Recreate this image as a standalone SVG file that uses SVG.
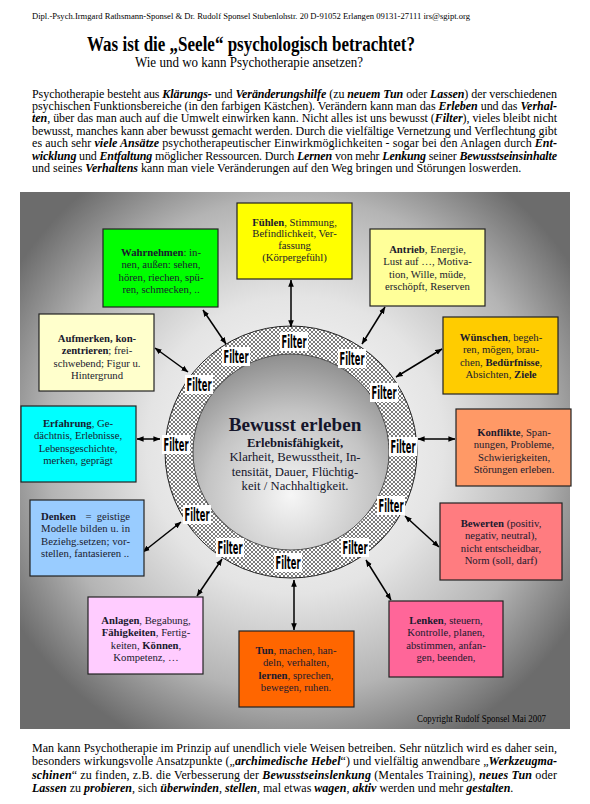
<svg xmlns="http://www.w3.org/2000/svg" width="590" height="804" viewBox="0 0 590 804">
<defs>
<style>
.ser{font-family:"Liberation Serif","Times New Roman",serif;fill:#000}
.hd{font-size:9px}
.p{font-size:12px}
.bi{font-weight:bold;font-style:italic}
.b{font-weight:bold}
.bx{stroke:#222;stroke-width:1.2}
.bt{font-family:"Liberation Serif","Times New Roman",serif;font-size:10.7px;fill:#1a1a2e;text-anchor:middle}
.bt.bl{text-anchor:start}
.bt.br{text-anchor:end}
.ct{font-family:"Liberation Serif","Times New Roman",serif;fill:#15152a;text-anchor:middle}
.fr{fill:#fff}
.ft{font-family:"Liberation Sans Narrow","DejaVu Sans Condensed","Liberation Sans",sans-serif;font-weight:bold;font-size:17px;fill:#000;text-anchor:middle}
.ar{stroke:#000;stroke-width:1.5;fill:none;marker-start:url(#ah);marker-end:url(#ah)}
</style>
<radialGradient id="bg" gradientUnits="userSpaceOnUse" cx="295" cy="445" r="330">
<stop offset="0" stop-color="#ffffff"/>
<stop offset="0.45" stop-color="#e4e4e4"/>
<stop offset="0.75" stop-color="#b4b4b4"/>
<stop offset="1" stop-color="#6c6c6c"/>
</radialGradient>
<radialGradient id="core" cx="0.5" cy="0.72" r="0.72">
<stop offset="0" stop-color="#f6f6f6"/>
<stop offset="0.6" stop-color="#c4c4c4"/>
<stop offset="1" stop-color="#8e8e8e"/>
</radialGradient>
<pattern id="hatch" width="4" height="4" patternUnits="userSpaceOnUse">
<rect width="4" height="4" fill="#fff"/>
<path d="M0,0 L4,4 M4,0 L0,4" stroke="#444" stroke-width="0.7"/>
</pattern>
<marker id="ah" viewBox="0 0 10 10" refX="9.5" refY="5" markerWidth="7" markerHeight="7" markerUnits="userSpaceOnUse" orient="auto-start-reverse">
<path d="M0,1 L10,5 L0,9 z" fill="#000"/>
</marker>
</defs>

<rect width="590" height="804" fill="#fff"/>

<g id="header" class="ser">
<text class="hd" x="32" y="19" textLength="438" lengthAdjust="spacingAndGlyphs">Dipl.-Psych.Irmgard Rathsmann-Sponsel &amp; Dr. Rudolf Sponsel  Stubenlohstr. 20 D-91052 Erlangen 09131-27111 irs@sgipt.org</text>
<text x="87" y="50.5" font-size="20" font-weight="bold" textLength="328" lengthAdjust="spacingAndGlyphs">Was ist die „Seele“ psychologisch betrachtet?</text>
<text x="135" y="66.5" font-size="14.5" textLength="228" lengthAdjust="spacingAndGlyphs">Wie und wo kann Psychotherapie ansetzen?</text>
</g>

<g id="intro" class="ser p">
<text x="32" y="97.5" textLength="525" lengthAdjust="spacing">Psychotherapie besteht aus <tspan class="bi">Klärungs-</tspan> und <tspan class="bi">Veränderungshilfe</tspan> (zu <tspan class="bi">neuem Tun</tspan> oder <tspan class="bi">Lassen</tspan>) der verschiedenen</text>
<text x="32" y="110" textLength="525" lengthAdjust="spacing">psychischen Funktionsbereiche (in den farbigen Kästchen). Verändern kann man das <tspan class="bi">Erleben</tspan> und das <tspan class="bi">Verhal-</tspan></text>
<text x="32" y="122.4" textLength="525" lengthAdjust="spacing"><tspan class="bi">ten</tspan>, über das man auch auf die Umwelt einwirken kann. Nicht alles ist uns bewusst (<tspan class="bi">Filter</tspan>), vieles bleibt nicht</text>
<text x="32" y="134.8" textLength="525" lengthAdjust="spacing">bewusst, manches kann aber bewusst gemacht werden. Durch die vielfältige Vernetzung und Verflechtung gibt</text>
<text x="32" y="147.2" textLength="525" lengthAdjust="spacing">es auch sehr <tspan class="bi">viele Ansätze</tspan> psychotherapeutischer Einwirkmöglichkeiten - sogar bei den Anlagen durch <tspan class="bi">Ent-</tspan></text>
<text x="32" y="159.6" textLength="525" lengthAdjust="spacing"><tspan class="bi">wicklung</tspan> und <tspan class="bi">Entfaltung</tspan> möglicher Ressourcen. Durch <tspan class="bi">Lernen</tspan> von mehr <tspan class="bi">Lenkung</tspan> seiner <tspan class="bi">Bewusstseinsinhalte</tspan></text>
<text x="32" y="172">und seines <tspan class="bi">Verhaltens</tspan> kann man viele Veränderungen auf den Weg bringen und Störungen loswerden.</text>
</g>

<g id="panel">
<rect x="20" y="192" width="550" height="537" fill="url(#bg)"/>
<text class="ser" x="417" y="722" font-size="9.5" fill="#1a1a2e" textLength="129" lengthAdjust="spacingAndGlyphs">Copyright Rudolf Sponsel  Mai  2007</text>
</g>

<g id="center">
<circle cx="291" cy="452" r="126" fill="url(#hatch)" stroke="#222" stroke-width="1"/>
<circle cx="291" cy="452" r="98" fill="url(#core)" stroke="#333" stroke-width="0.8"/>
<text class="ct" x="295" y="431" font-size="19.2" font-weight="bold">Bewusst erleben</text>
<text class="ct" x="295" y="446.5" font-size="12.6" font-weight="bold">Erlebnisfähigkeit,</text>
<text class="ct" x="295" y="461" font-size="12.7">Klarheit, Bewusstheit, In-</text>
<text class="ct" x="295" y="475.5" font-size="12.7">tensität, Dauer, Flüchtig-</text>
<text class="ct" x="295" y="490" font-size="12.7">keit / Nachhaltigkeit.</text>
</g>

<g id="connectors">
<line class="ar" x1="203" y1="310" x2="226" y2="344"/>
<line class="ar" x1="291" y1="280" x2="291" y2="327"/>
<line class="ar" x1="385" y1="307" x2="362" y2="344"/>
<line class="ar" x1="155" y1="348" x2="188" y2="372"/>
<line class="ar" x1="442" y1="349" x2="396" y2="377"/>
<line class="ar" x1="137" y1="439" x2="160" y2="439"/>
<line class="ar" x1="455" y1="439" x2="418" y2="439"/>
<line class="ar" x1="143" y1="552" x2="181" y2="522"/>
<line class="ar" x1="439" y1="547" x2="405" y2="516"/>
<line class="ar" x1="197" y1="596" x2="222" y2="559"/>
<line class="ar" x1="294" y1="630" x2="294" y2="580"/>
<line class="ar" x1="391" y1="600" x2="366" y2="560"/>
</g>

<g id="filters">
<g><rect class="fr" x="280" y="332" width="28" height="19"/><text class="ft" x="294" y="348" textLength="25" lengthAdjust="spacingAndGlyphs">Filter</text></g>
<g><rect class="fr" x="222" y="347" width="28" height="19"/><text class="ft" x="236" y="363" textLength="25" lengthAdjust="spacingAndGlyphs">Filter</text></g>
<g><rect class="fr" x="185" y="375" width="28" height="19"/><text class="ft" x="199" y="391" textLength="25" lengthAdjust="spacingAndGlyphs">Filter</text></g>
<g><rect class="fr" x="162" y="435" width="28" height="19"/><text class="ft" x="176" y="451" textLength="25" lengthAdjust="spacingAndGlyphs">Filter</text></g>
<g><rect class="fr" x="183" y="505" width="28" height="19"/><text class="ft" x="197" y="521" textLength="25" lengthAdjust="spacingAndGlyphs">Filter</text></g>
<g><rect class="fr" x="216" y="538" width="28" height="19"/><text class="ft" x="230" y="554" textLength="25" lengthAdjust="spacingAndGlyphs">Filter</text></g>
<g><rect class="fr" x="274" y="553" width="28" height="19"/><text class="ft" x="288" y="569" textLength="25" lengthAdjust="spacingAndGlyphs">Filter</text></g>
<g><rect class="fr" x="341" y="538" width="28" height="19"/><text class="ft" x="355" y="554" textLength="25" lengthAdjust="spacingAndGlyphs">Filter</text></g>
<g><rect class="fr" x="377" y="496" width="28" height="19"/><text class="ft" x="391" y="512" textLength="25" lengthAdjust="spacingAndGlyphs">Filter</text></g>
<g><rect class="fr" x="389" y="437" width="28" height="19"/><text class="ft" x="403" y="453" textLength="25" lengthAdjust="spacingAndGlyphs">Filter</text></g>
<g><rect class="fr" x="370" y="383" width="28" height="19"/><text class="ft" x="384" y="399" textLength="25" lengthAdjust="spacingAndGlyphs">Filter</text></g>
<g><rect class="fr" x="338" y="349" width="28" height="19"/><text class="ft" x="352" y="365" textLength="25" lengthAdjust="spacingAndGlyphs">Filter</text></g>
</g>

<g id="wahrnehmen">
<rect class="bx" x="103" y="229" width="115" height="78" fill="#00ff00"/>
<text class="bt" x="161" y="256"><tspan class="b">Wahrnehmen</tspan>: in-</text>
<text class="bt" x="161" y="268.3">nen, außen: sehen,</text>
<text class="bt" x="161" y="280.6">hören, riechen, spü-</text>
<text class="bt" x="161" y="292.9">ren, schmecken, ..</text>
</g>

<g id="fuehlen">
<rect class="bx" x="237" y="203" width="115" height="76" fill="#ffff00"/>
<text class="bt" x="294.5" y="225.5"><tspan class="b">Fühlen</tspan>, Stimmung,</text>
<text class="bt" x="294.5" y="237.3">Befindlichkeit, Ver-</text>
<text class="bt" x="294.5" y="249.1">fassung</text>
<text class="bt" x="294.5" y="260.9">(Körpergefühl)</text>
</g>

<g id="antrieb">
<rect class="bx" x="370" y="229" width="115" height="77" fill="#ffff99"/>
<text class="bt" x="427.5" y="253"><tspan class="b">Antrieb</tspan>, Energie,</text>
<text class="bt" x="427.5" y="265.3">Lust auf …, Motiva-</text>
<text class="bt" x="427.5" y="277.6">tion, Wille, müde,</text>
<text class="bt" x="427.5" y="289.9">erschöpft, Reserven</text>
</g>

<g id="aufmerken">
<rect class="bx" x="39" y="314" width="115" height="77" fill="#ffffcc"/>
<text class="bt" x="97" y="342"><tspan class="b">Aufmerken, kon-</tspan></text>
<text class="bt" x="97" y="354.3"><tspan class="b">zentrieren</tspan>;  frei-</text>
<text class="bt" x="97" y="366.6">schwebend; Figur u.</text>
<text class="bt" x="97" y="378.9">Hintergrund</text>
</g>

<g id="wuenschen">
<rect class="bx" x="443" y="317" width="115" height="77" fill="#ffcc00"/>
<text class="bt" x="501" y="341"><tspan class="b">Wünschen</tspan>, begeh-</text>
<text class="bt" x="501" y="353.3">ren, mögen, brau-</text>
<text class="bt" x="501" y="365.6">chen, <tspan class="b">Bedürfnisse</tspan>,</text>
<text class="bt" x="501" y="377.9">Absichten, <tspan class="b">Ziele</tspan></text>
</g>

<g id="erfahrung">
<rect class="bx" x="21" y="406" width="115" height="76" fill="#00ffff"/>
<text class="bt" x="78" y="427"><tspan class="b">Erfahrung</tspan>, Ge-</text>
<text class="bt" x="78" y="439.3">dächtnis, Erlebnisse,</text>
<text class="bt" x="78" y="451.6">Lebensgeschichte,</text>
<text class="bt" x="78" y="463.9">merken, geprägt</text>
</g>

<g id="konflikte">
<rect class="bx" x="456" y="409" width="115" height="77" fill="#ff9966"/>
<text class="bt" x="514" y="436"><tspan class="b">Konflikte</tspan>, Span-</text>
<text class="bt" x="514" y="448.3">nungen, Probleme,</text>
<text class="bt" x="514" y="460.6">Schwierigkeiten,</text>
<text class="bt" x="514" y="472.9">Störungen erleben.</text>
</g>

<g id="denken">
<rect class="bx" x="30" y="500" width="114" height="76" fill="#99ccff"/>
<text class="bt bl" x="41" y="520"><tspan class="b">Denken</tspan></text>
<text class="bt" x="88.5" y="520">=</text>
<text class="bt br" x="130" y="520">geistige</text>
<text class="bt bl" x="41" y="532.3" textLength="89" lengthAdjust="spacing">Modelle bilden u. in</text>
<text class="bt bl" x="41" y="544.6" textLength="89" lengthAdjust="spacing">Beziehg.setzen; vor-</text>
<text class="bt bl" x="41" y="556.9">stellen, fantasieren ..</text>
</g>

<g id="bewerten">
<rect class="bx" x="440" y="503" width="122" height="77" fill="#ff7c80"/>
<text class="bt" x="501" y="527"><tspan class="b">Bewerten</tspan> (positiv,</text>
<text class="bt" x="501" y="539.3">negativ, neutral),</text>
<text class="bt" x="501" y="551.6">nicht entscheidbar,</text>
<text class="bt" x="501" y="563.9">Norm (soll, darf)</text>
</g>

<g id="anlagen">
<rect class="bx" x="88" y="597" width="115" height="77" fill="#ffccff"/>
<text class="bt" x="146" y="624"><tspan class="b">Anlagen</tspan>, Begabung,</text>
<text class="bt" x="146" y="636.3"><tspan class="b">Fähigkeiten</tspan>, Fertig-</text>
<text class="bt" x="146" y="648.6">keiten, <tspan class="b">Können</tspan>,</text>
<text class="bt" x="146" y="660.9">Kompetenz, …</text>
</g>

<g id="tun">
<rect class="bx" x="239" y="631" width="115" height="76" fill="#ff6600"/>
<text class="bt" x="296" y="654"><tspan class="b">Tun</tspan>, machen,  han-</text>
<text class="bt" x="296" y="666.3">deln, verhalten,</text>
<text class="bt" x="296" y="678.6"><tspan class="b">lernen</tspan>, sprechen,</text>
<text class="bt" x="296" y="690.9">bewegen, ruhen.</text>
</g>

<g id="lenken">
<rect class="bx" x="389" y="601" width="114" height="76" fill="#ff6699"/>
<text class="bt" x="446" y="624"><tspan class="b">Lenken</tspan>, steuern,</text>
<text class="bt" x="446" y="636.3">Kontrolle, planen,</text>
<text class="bt" x="446" y="648.6">abstimmen, anfan-</text>
<text class="bt" x="446" y="660.9">gen, beenden,</text>
</g>

<g id="outro" class="ser p">
<text x="32" y="752" textLength="525" lengthAdjust="spacing">Man kann Psychotherapie im Prinzip auf unendlich viele Weisen betreiben. Sehr nützlich wird es daher sein,</text>
<text x="32" y="765.3" textLength="525" lengthAdjust="spacing">besonders wirkungsvolle Ansatzpunkte („<tspan class="bi">archimedische Hebel</tspan>“) und vielfältig anwendbare „<tspan class="bi">Werkzeugma-</tspan></text>
<text x="32" y="778.6" textLength="525" lengthAdjust="spacing"><tspan class="bi">schinen</tspan>“ zu finden, z.B. die Verbesserung der <tspan class="bi">Bewusstseinslenkung</tspan> (Mentales Training), <tspan class="bi">neues Tun</tspan> oder</text>
<text x="32" y="791.9"><tspan class="bi">Lassen</tspan> zu <tspan class="bi">probieren</tspan>, sich <tspan class="bi">überwinden</tspan>, <tspan class="bi">stellen</tspan>, mal etwas <tspan class="bi">wagen</tspan>, <tspan class="bi">aktiv</tspan> werden und mehr <tspan class="bi">gestalten</tspan>.</text>
</g>
</svg>
